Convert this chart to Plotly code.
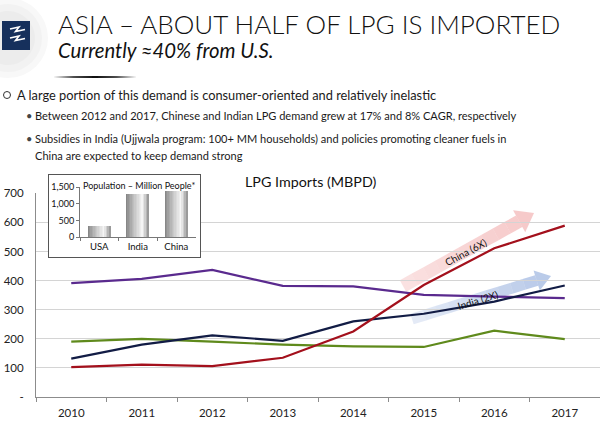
import math
import plotly.graph_objects as go

# ---------------- data ----------------
years = ["2010", "2011", "2012", "2013", "2014", "2015", "2016", "2017"]
china = [103, 111, 106, 135, 225, 385, 511, 589]
india = [132, 180, 212, 193, 260, 286, 328, 383]
japan = [391, 406, 437, 382, 380, 351, 345, 340]
korea = [190, 200, 190, 180, 174, 172, 228, 199]

pop_countries = ["USA", "India", "China"]
pop_values = [320, 1280, 1380]

y_tickvals = [0, 100, 200, 300, 400, 500, 600, 700]
y_ticktext = ["-", "100", "200", "300", "400", "500", "600", "700"]
pop_tickvals = [0, 500, 1000, 1500]
pop_ticktext = ["0", "500", "1,000", "1,500"]

# ---------------- geometry helpers (pixel -> paper) ----------------
W, H = 600, 424
L, R, T, B = 36, 0, 165, 27
PW, PH = W - L - R, H - T - B


def px(x):
    return (x - L) / PW


def py(y):
    return (H - B - y) / PH


FONT = "Lato"
TXT = "#1a1a1a"

fig = go.Figure()

colors = {"korea": "#5f8a1c", "india": "#121c45", "japan": "#5a2a8e", "china": "#a3101c"}
for name, vals in [("korea", korea), ("japan", japan), ("india", india), ("china", china)]:
    fig.add_trace(go.Scatter(x=years, y=vals, mode="lines", name=name,
                             line=dict(color=colors[name], width=2.2),
                             hoverinfo="skip", xaxis="x", yaxis="y"))

# empty trace so the inset frame subplot (white box) exists
fig.add_trace(go.Scatter(x=[], y=[], mode="markers", hoverinfo="skip", showlegend=False,
                         xaxis="x2", yaxis="y2"))

# inset population bars: cylinder-like shading using strips
bar_w = 0.58
nstrip = 16


def shade(t):
    hl = 0.72
    if t <= hl:
        v = 125 + (245 - 125) * (t / hl) ** 0.8
    else:
        v = 245 - (245 - 140) * ((t - hl) / (1 - hl)) ** 1.2
    v = int(round(v))
    return f"rgb({v},{v},{v})"


for i in range(nstrip):
    t = (i + 0.5) / nstrip
    fig.add_trace(go.Bar(x=pop_countries, y=pop_values,
                         width=bar_w / nstrip * 1.04,
                         offset=-bar_w / 2 + i * bar_w / nstrip,
                         marker=dict(color=shade(t), line=dict(width=0)),
                         hoverinfo="skip", showlegend=False,
                         xaxis="x3", yaxis="y3"))

shapes = []
annotations = []


def note(text, x, y, size, xanchor="center", yanchor="middle", angle=0, color="#111", weight=None):
    f = dict(family=FONT, size=size, color=color)
    if weight:
        f["weight"] = weight
    annotations.append(dict(text=text, x=px(x), y=py(y), xref="paper", yref="paper",
                            xanchor=xanchor, yanchor=yanchor, showarrow=False,
                            textangle=angle, font=f))


# ---------- arrows (China / India) ----------


def arrow(tail, tip, shaft_hw, head_hw, head_len, rgb, a0, a1, nseg=10):
    tx, ty = tail
    hx, hy = tip
    dx, dy = hx - tx, hy - ty
    lg = math.hypot(dx, dy)
    ux, uy = dx / lg, dy / lg
    nx, ny = -uy, ux
    sl = lg - head_len
    out = []
    for i in range(nseg):
        s0 = i * sl / nseg
        s1 = (i + 1) * sl / nseg
        p = [(tx + ux * s0 + nx * shaft_hw, ty + uy * s0 + ny * shaft_hw),
             (tx + ux * s1 + nx * shaft_hw, ty + uy * s1 + ny * shaft_hw),
             (tx + ux * s1 - nx * shaft_hw, ty + uy * s1 - ny * shaft_hw),
             (tx + ux * s0 - nx * shaft_hw, ty + uy * s0 - ny * shaft_hw)]
        a = a0 + (a1 - a0) * (i + 0.5) / nseg
        out.append((p, f"rgba({rgb},{a:.3f})"))
    bx, by = tx + ux * sl, ty + uy * sl
    p = [(bx + nx * head_hw, by + ny * head_hw), (hx, hy), (bx - nx * head_hw, by - ny * head_hw)]
    out.append((p, f"rgba({rgb},{a1:.3f})"))
    res = []
    for poly, col in out:
        path = "M " + " L ".join(f"{px(x):.5f},{py(y):.5f}" for x, y in poly) + " Z"
        res.append(dict(type="path", path=path, xref="paper", yref="paper",
                        fillcolor=col, line=dict(width=0), layer="below"))
    return res


shapes += arrow((403, 286), (534, 213), 6.5, 12.5, 17, "238,150,150", 0.28, 0.5)
shapes += arrow((412, 319), (551, 276), 5.5, 10.5, 15, "130,160,215", 0.2, 0.55)

note("China (6X)", 466, 252, 10, angle=-28)
note("India (2X)", 478, 300, 10, angle=-17)

# ---------- header ----------
for r, c in [(40, "#f8f8f8"), (34, "#f2f2f2"), (27, "#ececec")]:
    cx, cy = 8, 38
    shapes.append(dict(type="circle", xref="paper", yref="paper",
                       x0=px(cx - r), x1=px(cx + r), y0=py(cy + r), y1=py(cy - r),
                       fillcolor=c, line=dict(width=0), layer="below"))
shapes.append(dict(type="rect", xref="paper", yref="paper", x0=px(2), x1=px(30), y0=py(50), y1=py(21),
                   fillcolor="#16305c", line=dict(width=0)))
for off in (0, 9):
    pts = [(10, 29 + off), (19, 27 + off), (15.5, 31.5 + off), (25, 29.5 + off)]
    path = "M " + " L ".join(f"{px(x):.5f},{py(y):.5f}" for x, y in pts)
    shapes.append(dict(type="path", path=path, xref="paper", yref="paper",
                       line=dict(color="white", width=1.6)))

sep = f"M {px(53):.5f},{py(77):.5f} Q {px(95):.5f},{py(75.2):.5f} {px(137):.5f},{py(77):.5f} " \
      f"Q {px(95):.5f},{py(78.8):.5f} {px(53):.5f},{py(77):.5f} Z"
shapes.append(dict(type="path", path=sep, xref="paper", yref="paper", fillcolor="#111", line=dict(width=0)))

note("ASIA – ABOUT HALF OF LPG IS IMPORTED", 56, 24, 26, xanchor="left", weight=300)
note("<i>Currently ≈40% from U.S.</i>", 56, 50, 20.3, xanchor="left")

# bullets
shapes.append(dict(type="circle", xref="paper", yref="paper", x0=px(3.5), x1=px(10.5), y0=py(98.5), y1=py(91.5),
                   line=dict(color="#333", width=1), fillcolor="rgba(0,0,0,0)"))
note("A large portion of this demand is consumer-oriented and relatively inelastic", 15, 95, 12.8,
     xanchor="left", color=TXT)
sub = [
    ("Between 2012 and 2017, Chinese and Indian LPG demand grew at 17% and 8% CAGR, respectively", 115, True),
    ("Subsidies in India (Ujjwala program: 100+ MM households) and policies promoting cleaner fuels in", 138, True),
    ("China are expected to keep demand strong", 155, False),
]
for txt, yy, dot in sub:
    if dot:
        note("•", 24, yy, 11, xanchor="left", color="#444")
    note(txt, 33, yy, 11.05, xanchor="left", color=TXT)

note("LPG Imports (MBPD)", 310, 181, 14.3)
note("Population – Million People*", 139, 185, 9)

fig.update_layout(
    width=W, height=H,
    margin=dict(l=L, r=R, t=T, b=B, autoexpand=False),
    paper_bgcolor="white", plot_bgcolor="white",
    showlegend=False, barmode="overlay", bargap=0,
    shapes=shapes, annotations=annotations,
    xaxis=dict(domain=[0, 1], anchor="y", type="category", showgrid=False, showline=True, automargin=False,
               linecolor="#8c8c8c", linewidth=1, ticks="outside", tickson="boundaries",
               ticklen=4, tickcolor="#8c8c8c", tickfont=dict(family=FONT, size=11.5, color="#222"),
               ticklabelstandoff=5, range=[-0.5, 7.5]),
    yaxis=dict(domain=[0, py(193.3)], anchor="x", range=[0, 700], tickvals=y_tickvals, ticktext=y_ticktext,
               automargin=False, ticklabelstandoff=9,
               showgrid=True, gridcolor="#d4d4d4", gridwidth=1, zeroline=False, showline=True,
               linecolor="#8c8c8c", linewidth=1, ticks="", tickfont=dict(family=FONT, size=11.5, color="#222")),
    xaxis2=dict(domain=[px(49), px(200)], anchor="y2", range=[0, 1], showgrid=False, zeroline=False,
                automargin=False,
                showticklabels=False, showline=True, mirror=True, linecolor="#555", linewidth=1, fixedrange=True),
    yaxis2=dict(domain=[py(257), py(175)], anchor="x2", range=[0, 1], showgrid=False, zeroline=False,
                automargin=False,
                showticklabels=False, showline=True, mirror=True, linecolor="#555", linewidth=1, fixedrange=True),
    xaxis3=dict(domain=[px(80), px(195.5)], anchor="y3", type="category", showgrid=False, showline=True,
                automargin=False,
                linecolor="#777", linewidth=1, ticks="outside", tickson="boundaries", ticklen=3, tickcolor="#777",
                tickfont=dict(family=FONT, size=9.5, color="#111"), range=[-0.5, 2.5]),
    yaxis3=dict(domain=[py(237.3), py(187.3)], anchor="x3", range=[0, 1500], tickvals=pop_tickvals,
                automargin=False,
                ticktext=pop_ticktext, showgrid=False, zeroline=False, showline=True, linecolor="#777",
                linewidth=1, ticks="outside", ticklen=3, tickcolor="#777",
                tickfont=dict(family=FONT, size=9, color="#111")),
)

fig.write_html("out.html", config={"displayModeBar": False},
               post_script="document.body.style.margin='0';")
